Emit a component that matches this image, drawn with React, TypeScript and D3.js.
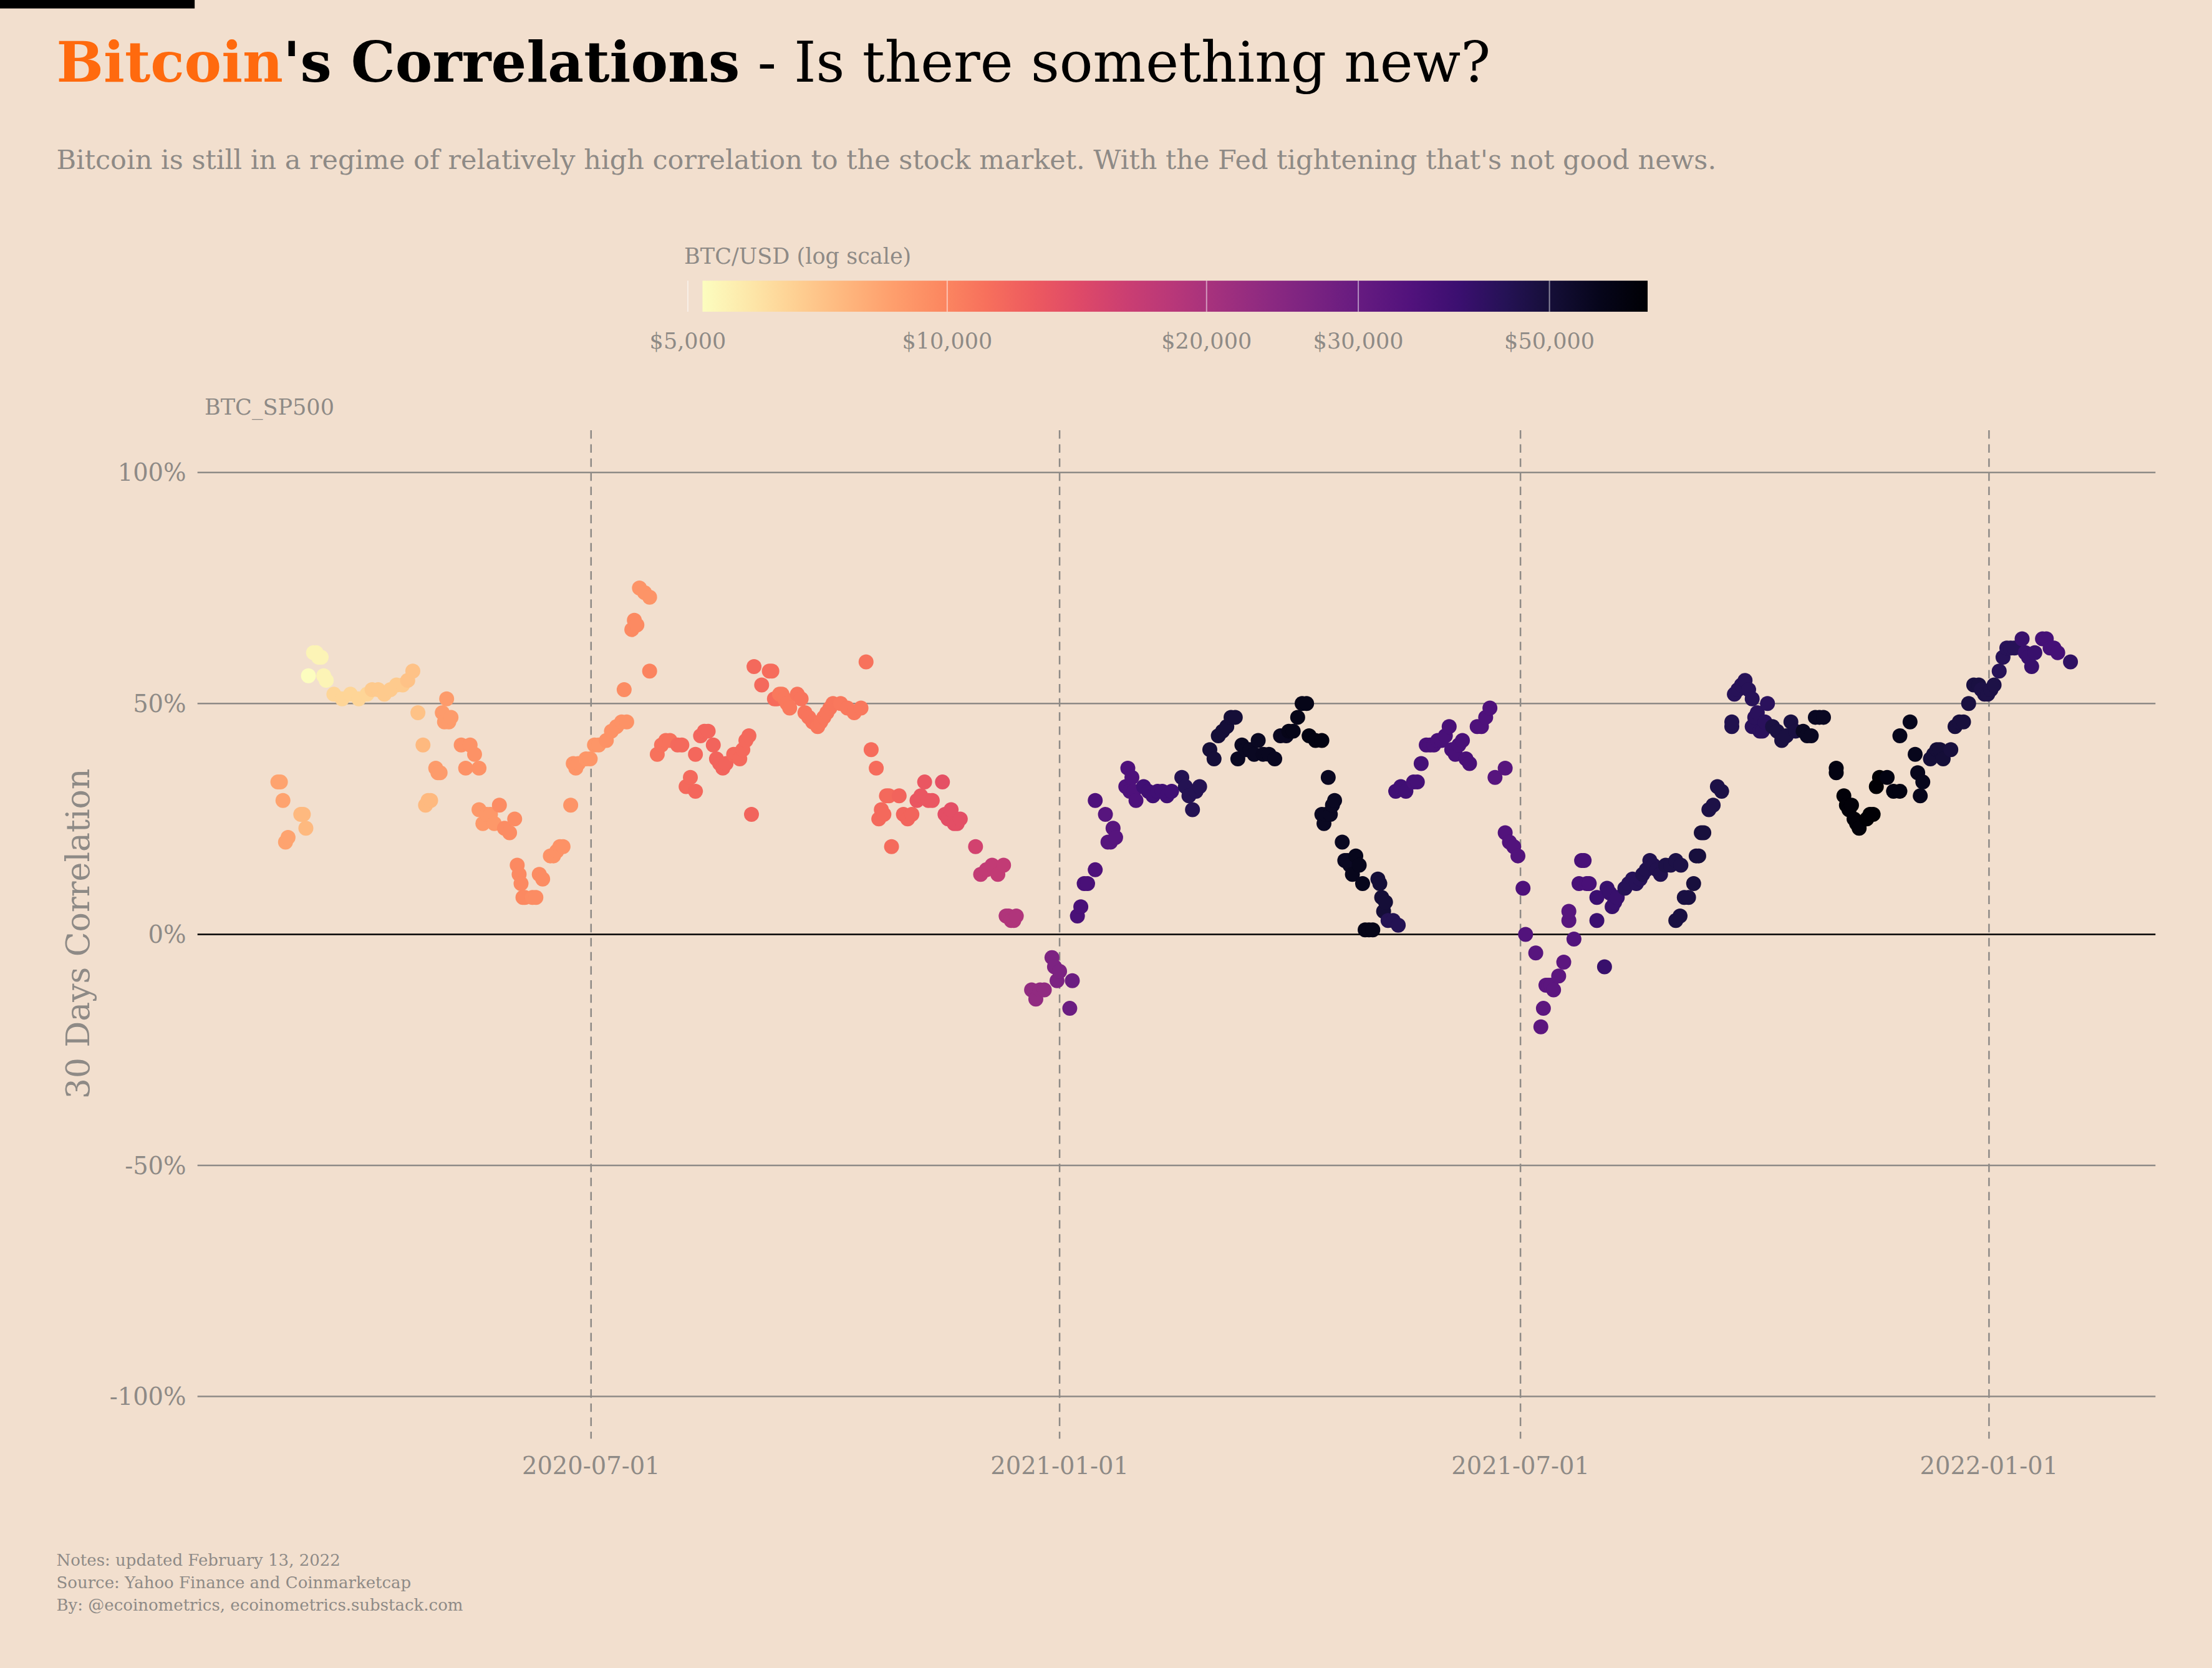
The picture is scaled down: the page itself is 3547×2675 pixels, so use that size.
import * as d3 from "d3";

// groups: [startDayFromJul1_2020, endDay, btcPrice(k$), correlations(%)]
const groups: [number, number, number, number[]][] = [
  [-123, -119, 8.5, [33, 33, 29, 20, 21]],
  [-114, -112, 7.5, [26, 26, 23]],
  [-111, -111, 5.2, [56]],
  [-109, -104, 5.5, [61, 61, 60, 60, 56, 55]],
  [-101, -88, 6.5, [52, 51, 52, 51, 52]],
  [-86, -74, 6.9, [53, 53, 52, 53, 54, 54]],
  [-72, -68, 7.2, [55, 57, 48]],
  [-66, -63, 7.5, [41, 28, 29, 29]],
  [-61, -55, 8.8, [36, 35, 35, 48, 46, 51, 46, 47]],
  [-51, -44, 9.3, [41, 36, 41, 39, 36]],
  [-44, -38, 9.0, [27, 24, 26, 26, 24]],
  [-36, -30, 9.5, [28, 23, 22, 25]],
  [-29, -26, 9.7, [15, 13, 11, 8, 8]],
  [-23, -19, 9.5, [8, 8, 13, 12]],
  [-16, -11, 9.3, [17, 17, 18, 19, 19]],
  [-8, -5, 9.2, [28, 37, 36, 37]],
  [-2, 3, 9.1, [38, 38, 41, 41]],
  [6, 14, 9.3, [42, 44, 45, 46, 46]],
  [13, 13, 9.5, [53]],
  [16, 18, 9.6, [66, 68, 67]],
  [19, 23, 9.2, [75, 74, 73]],
  [23, 23, 10, [57]],
  [26, 31, 11, [39, 41, 42, 42]],
  [34, 39, 11.5, [41, 41, 32, 34]],
  [41, 41, 11.6, [31, 39]],
  [43, 46, 11.7, [43, 44, 44]],
  [48, 53, 11.8, [41, 38, 37, 36, 37]],
  [56, 62, 11.5, [39, 39, 38, 40, 42, 43]],
  [63, 63, 11.8, [26]],
  [64, 67, 11.5, [58, 54]],
  [70, 73, 11.3, [57, 57, 51, 51]],
  [74, 78, 10.5, [52, 52, 51, 50, 49]],
  [81, 87, 10.8, [52, 51, 48, 47, 46]],
  [89, 95, 10.7, [45, 46, 47, 48, 49, 50]],
  [98, 106, 10.6, [50, 49, 48, 49]],
  [108, 108, 11, [59]],
  [110, 112, 11.3, [40, 36]],
  [113, 117, 11.5, [25, 27, 26, 30, 30]],
  [118, 118, 11.4, [19]],
  [121, 126, 11.8, [30, 26, 25, 26]],
  [128, 134, 13, [29, 30, 33, 29, 29]],
  [138, 138, 13.5, [33]],
  [139, 145, 13.8, [26, 25, 27, 24, 24, 25]],
  [151, 151, 15.5, [19]],
  [153, 162, 17, [13, 14, 15, 13, 15]],
  [163, 167, 19, [4, 4, 3, 3, 4]],
  [173, 178, 23, [-12, -14, -12, -12]],
  [181, 184, 26, [-5, -7, -10, -8]],
  [188, 189, 29, [-16, -10]],
  [191, 195, 36, [4, 6, 11, 11]],
  [198, 198, 35, [14, 29]],
  [202, 206, 33, [26, 20, 20, 23, 21]],
  [210, 214, 35, [32, 36, 31, 34, 31, 29]],
  [217, 228, 38, [32, 31, 30, 31, 31, 30, 31]],
  [232, 239, 45, [34, 32, 30, 27, 31, 32]],
  [243, 253, 50, [40, 38, 43, 44, 45, 47, 47]],
  [254, 262, 55, [38, 41, 40, 40, 39, 42]],
  [264, 273, 56, [39, 39, 38, 43, 43]],
  [274, 281, 58, [44, 44, 47, 50, 50]],
  [282, 287, 60, [43, 42, 42]],
  [287, 292, 55, [26, 24, 26, 34, 26, 28, 29]],
  [295, 298, 55, [20, 16, 16, 15]],
  [299, 303, 57, [13, 17, 15, 11]],
  [304, 307, 58, [1, 1, 1]],
  [309, 312, 50, [12, 11, 8, 5, 7]],
  [313, 317, 45, [3, 3, 2]],
  [316, 320, 38, [31, 32, 31]],
  [323, 326, 37, [33, 33, 37]],
  [328, 337, 36, [41, 41, 41, 42, 42, 43, 45]],
  [338, 345, 36, [40, 39, 41, 42, 38, 37]],
  [348, 353, 35, [45, 45, 47, 49]],
  [355, 359, 33, [34, 36]],
  [359, 364, 34, [22, 20, 19, 17]],
  [366, 366, 35, [10]],
  [367, 367, 34, [0]],
  [371, 371, 33, [-4]],
  [373, 378, 32, [-20, -16, -11, -11, -11, -12]],
  [380, 382, 32, [-9, -6]],
  [384, 384, 33, [3, 5]],
  [386, 386, 34, [-1]],
  [388, 392, 36, [11, 16, 16, 11, 11]],
  [395, 395, 39, [8, 3]],
  [398, 398, 40, [-7]],
  [399, 403, 40, [10, 9, 6, 7, 8]],
  [406, 412, 44, [10, 11, 12, 11, 12]],
  [413, 420, 46, [13, 14, 16, 15, 14, 13]],
  [422, 428, 47, [15, 15, 16, 15]],
  [426, 431, 48, [3, 4, 8, 8]],
  [433, 437, 49, [11, 17, 17, 22, 22]],
  [439, 444, 47, [27, 28, 32, 31]],
  [448, 448, 46, [45, 46]],
  [449, 456, 44, [52, 53, 54, 55, 53, 51]],
  [456, 462, 43, [45, 47, 48, 44, 44, 46, 50]],
  [464, 473, 48, [45, 44, 42, 43, 46, 44]],
  [476, 484, 55, [44, 43, 43, 47, 47, 47]],
  [489, 489, 60, [36, 35]],
  [492, 498, 62, [30, 28, 27, 28, 25, 24, 23]],
  [501, 506, 64, [25, 26, 26, 32, 34]],
  [509, 514, 60, [34, 31, 31]],
  [514, 518, 57, [43, 46]],
  [520, 523, 57, [39, 35, 30, 33]],
  [526, 531, 50, [38, 39, 40, 40, 38]],
  [534, 539, 49, [40, 45, 46, 46]],
  [541, 545, 48, [50, 54, 54]],
  [546, 551, 47, [53, 52, 52, 53, 54]],
  [553, 559, 44, [57, 60, 62, 62, 62]],
  [562, 567, 40, [64, 61, 60, 58, 61]],
  [570, 576, 37, [64, 64, 62, 62, 61]],
  [581, 581, 42, [59]],
];

const yTicks = [1, 0.5, 0, -0.5, -1];
const xTickDates = ["2020-07-01", "2021-01-01", "2021-07-01", "2022-01-01"];
const priceTicks = [5000, 10000, 20000, 30000, 50000];

const S = 2.262;
const W = 3547;
const H = 2675;
const BG = "#f2dfce";
const GREY = "#8e8a86";
const FONT = "'DejaVu Serif', serif";

export default function App() {
  const base = new Date(Date.UTC(2020, 6, 1));
  const day = (n: number) => new Date(base.getTime() + n * 86400000);

  const points = groups.flatMap(([a, b, price, vals]) =>
    vals.map((v, i) => ({
      date: day(vals.length > 1 ? a + ((b - a) * i) / (vals.length - 1) : a),
      corr: v / 100,
      price: price * 1000,
    }))
  );

  // anchored on 2020-07-01 and 2022-01-01
  const x = d3
    .scaleUtc()
    .domain([day(0), day(549)])
    .range([419 * S, 1410 * S]);
  const y = d3.scaleLinear().domain([-1, 1]).range([990 * S, 335 * S]);
  const cLog = d3.scaleLog().domain([5200, 65000]).range([0, 1]).clamp(true);
  const color = (p: number) => d3.interpolateMagma(1 - cLog(p));
  const barX = d3.scaleLog().domain([5200, 65000]).range([498 * S, 1168 * S]);

  const stops = d3.range(0, 1.0001, 0.05);

  return (
    <svg width={W} height={H} style={{ position: "absolute", left: 0, top: 0 }} fontFamily={FONT}>
      <defs>
        <linearGradient id="cb" x1="0" x2="1" y1="0" y2="0">
          {stops.map((t) => (
            <stop key={t} offset={t} stopColor={d3.interpolateMagma(1 - t)} />
          ))}
        </linearGradient>
      </defs>
      <rect width={W} height={H} fill={BG} />
      <rect x={0} y={0} width={138 * S} height={6 * S} fill="#000" />

      <text x={40 * S} y={58 * S} fontSize={39.5 * S}>
        <tspan fill="#ff6a0e" fontWeight="bold">Bitcoin</tspan>
        <tspan fontWeight="bold">'s Correlations</tspan>
        <tspan> - Is there something new?</tspan>
      </text>
      <text x={40 * S} y={120 * S} fontSize={19 * S} fill={GREY}>
        Bitcoin is still in a regime of relatively high correlation to the stock market. With the Fed tightening that's not good news.
      </text>

      {/* colour bar */}
      <text x={485 * S} y={187 * S} fontSize={15.5 * S} fill={GREY}>BTC/USD (log scale)</text>
      <rect x={498 * S} y={199 * S} width={670 * S} height={22 * S} fill="url(#cb)" />
      {priceTicks.map((p) => (
        <g key={p}>
          <line x1={barX(p)} x2={barX(p)} y1={199 * S} y2={221 * S} stroke="#fff" strokeOpacity={0.5} strokeWidth={2} />
          <text x={barX(p)} y={247 * S} fontSize={15.5 * S} fill={GREY} textAnchor="middle">
            {d3.format("$,")(p)}
          </text>
        </g>
      ))}

      <text x={145 * S} y={294 * S} fontSize={15.5 * S} fill={GREY}>BTC_SP500</text>

      {yTicks.map((t) => (
        <g key={t}>
          <line x1={140 * S} x2={1528 * S} y1={y(t)} y2={y(t)} stroke={t === 0 ? "#000" : GREY} strokeWidth={2.5} />
          <text x={132 * S} y={y(t) + 6 * S} fontSize={17 * S} fill={GREY} textAnchor="end">
            {`${t * 100}%`}
          </text>
        </g>
      ))}

      {xTickDates.map((s) => {
        const d = new Date(s + "T00:00:00Z");
        return (
          <g key={s}>
            <line x1={x(d)} x2={x(d)} y1={305 * S} y2={1020 * S} stroke={GREY} strokeWidth={2.5} strokeDasharray={`${6 * S} ${4 * S}`} />
            <text x={x(d)} y={1045 * S} fontSize={17 * S} fill={GREY} textAnchor="middle">{s}</text>
          </g>
        );
      })}

      <text transform={`translate(${63 * S},${662 * S}) rotate(-90)`} fontSize={23 * S} fill={GREY} textAnchor="middle">
        30 Days Correlation
      </text>

      {points.map((p, i) => (
        <circle key={i} cx={x(p.date)} cy={y(p.corr)} r={5.3 * S} fill={color(p.price)} />
      ))}

      {["Notes: updated February 13, 2022", "Source: Yahoo Finance and Coinmarketcap", "By: @ecoinometrics, ecoinometrics.substack.com"].map((t, i) => (
        <text key={t} x={40 * S} y={(1110 + i * 16) * S} fontSize={11.5 * S} fill={GREY}>{t}</text>
      ))}
    </svg>
  );
}
